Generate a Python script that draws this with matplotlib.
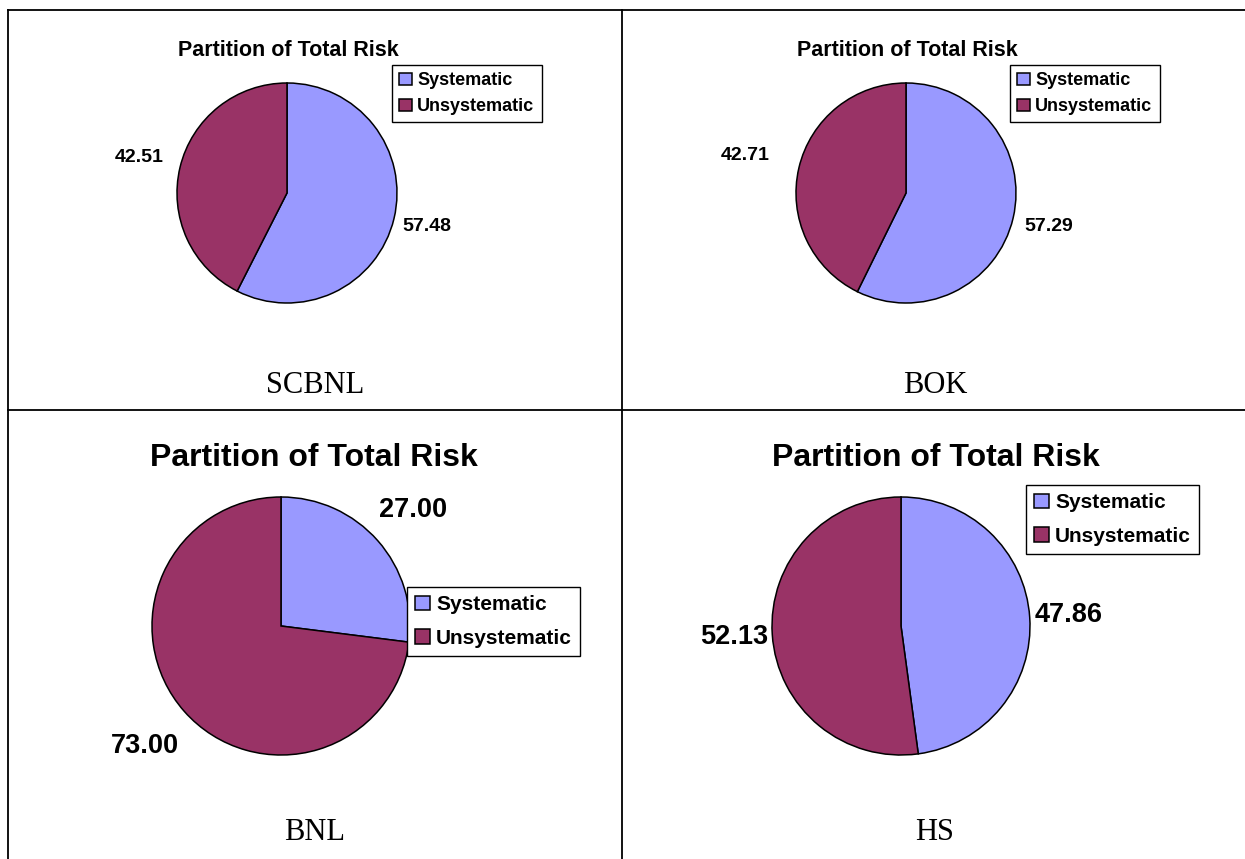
import matplotlib
matplotlib.use("Agg")
import numpy as np
import matplotlib.pyplot as plt
from matplotlib.lines import Line2D

W, H = 1245, 859

names = ["Systematic", "Unsystematic"]
colors = ["#9999FF", "#993366"]
banks = ["SCBNL", "BOK", "BNL", "HS"]
systematic = [57.48, 57.29, 27.00, 47.86]
unsystematic = [42.51, 42.71, 73.00, 52.13]

# per panel: pie centre/radius (px), title pos/size, label size/distance, legend corner, caption pos
panels = [
    dict(c=(287, 193), r=110, t=(288, 50), tfs=15.5, lfs=14, lab_d=(1.31, 1.38),
         leg=(392, 65), legfs=13, legsp=0.5, cap=(315, 386)),
    dict(c=(906, 193), r=110, t=(907, 50), tfs=15.5, lfs=14, lab_d=(1.33, 1.50),
         leg=(1010, 65), legfs=13, legsp=0.5, cap=(935, 386)),
    dict(c=(281, 626), r=129, t=(314, 458), tfs=23, lfs=19.5, lab_d=(1.36, 1.41),
         leg=(407, 587), legfs=15, legsp=0.7, cap=(315, 833)),
    dict(c=(901, 626), r=129, t=(936, 458), tfs=23, lfs=19.5, lab_d=(1.30, 1.30),
         leg=(1026, 485), legfs=15, legsp=0.7, cap=(935, 833)),
]

plt.rcParams["font.family"] = "Liberation Sans"
fig = plt.figure(figsize=(W / 100, H / 100), dpi=100)


def fx(x):
    return x / W


def fy(y):
    return 1 - y / H


# table grid
grid = [((8, 10), (1245, 10)), ((8, 10), (8, 859)),
        ((622, 10), (622, 859)), ((8, 410), (1245, 410))]
for (x0, y0), (x1, y1) in grid:
    fig.add_artist(Line2D([fx(x0), fx(x1)], [fy(y0), fy(y1)],
                          color="black", lw=1.3, transform=fig.transFigure))

for i, p in enumerate(panels):
    cx, cy = p["c"]
    r = p["r"]
    ax = fig.add_axes([fx(cx - r), fy(cy + r), 2 * r / W, 2 * r / H])
    vals = [systematic[i], unsystematic[i]]
    wedges, _ = ax.pie(vals, colors=colors, startangle=90, counterclock=False,
                       radius=1, wedgeprops=dict(edgecolor="black", linewidth=1.1))
    ax.set_xlim(-1, 1)
    ax.set_ylim(-1, 1)
    ax.set_aspect("equal")
    ax.axis("off")

    for w, v, d in zip(wedges, vals, p["lab_d"]):
        mid = np.radians((w.theta1 + w.theta2) / 2)
        ax.text(d * np.cos(mid), d * np.sin(mid), f"{v:.2f}", ha="center",
                va="center", fontsize=p["lfs"], fontweight="bold")

    fig.text(fx(p["t"][0]), fy(p["t"][1]), "Partition of Total Risk",
             ha="center", va="center", fontsize=p["tfs"], fontweight="bold")

    lx, ly = p["leg"]
    ax.legend(wedges, names, loc="upper left", bbox_to_anchor=(fx(lx), fy(ly)),
              bbox_transform=fig.transFigure, frameon=True, fancybox=False,
              edgecolor="black", framealpha=1, borderpad=0.4,
              handlelength=0.7, handleheight=0.7, handletextpad=0.3,
              labelspacing=p["legsp"], borderaxespad=0,
              prop=dict(weight="bold", size=p["legfs"]))

    fig.text(fx(p["cap"][0]), fy(p["cap"][1]), banks[i], ha="center",
             va="center", fontsize=22, family="Liberation Serif")

fig.savefig("out.png", dpi=100)
